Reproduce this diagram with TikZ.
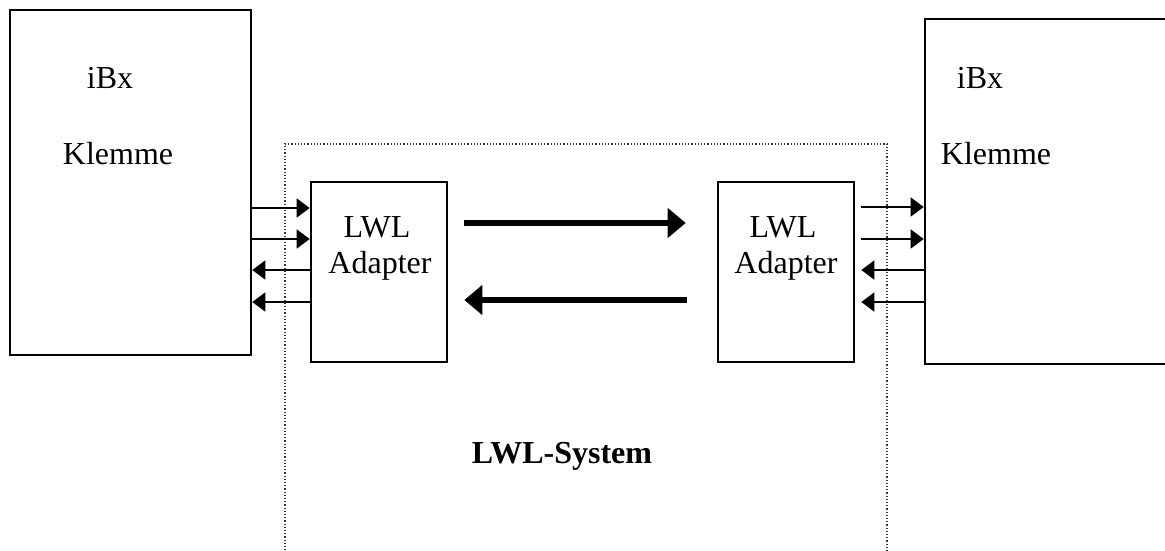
\documentclass[tikz,border=0pt]{standalone}
\usepackage{fontspec}
\setmainfont{Liberation Serif}
\usetikzlibrary{arrows.meta,calc}
\tikzset{
  klemme/.style={draw,line width=2.6pt,minimum width=241pt,minimum height=345pt,inner sep=0pt},
  adapter/.style={draw,line width=2.6pt,minimum width=136pt,minimum height=180pt,inner sep=0pt},
  lbl/.style={font=\fontsize{32}{36}\selectfont,inner sep=0pt,anchor=base},
  sarrow/.style={line width=1.6pt,-{Triangle[length=13pt,width=19pt]}},
  tarrow/.style={line width=6pt,-{Triangle[length=18pt,width=29pt]}},
  sysbox/.style={line width=1.2pt,dotted,black!80},
}
\begin{document}
\begin{tikzpicture}[x=1pt,y=-1pt]
\useasboundingbox (0,0) rectangle (1165,550);
\clip (0,0) rectangle (1165,550);
% dotted LWL system frame (open at bottom)
\draw[sysbox] (285,560) -- (285,144) -- (887,144) -- (887,560);
% Klemme boxes
\node[klemme] (klL) at (130.5,182.5) {};
\node[klemme] (klR) at (1045.5,191.5) {};
\node[lbl] (ibxL) at (110,88) {iBx};
\node[lbl] (kleL) at (118,164) {Klemme};
\node[lbl] (ibxR) at (980,88) {iBx};
\node[lbl] (kleR) at (996,164) {Klemme};
% adapters
\node[adapter] (adL) at (379,272) {};
\node[adapter] (adR) at (786,272) {};
\node[lbl] (lwlL) at (377,237) {LWL};
\node[lbl] (apL) at (380,273) {Adapter};
\node[lbl] (lwlR) at (783,237) {LWL};
\node[lbl] (apR) at (786,273) {Adapter};
% system label
\node[lbl,font=\fontsize{32}{36}\selectfont\bfseries] (sys) at (562,463) {LWL-System};
% small arrows left
\draw[sarrow] (klL.east |- 0,208) -- (adL.west |- 0,208);
\draw[sarrow] (klL.east |- 0,239) -- (adL.west |- 0,239);
\draw[sarrow] (adL.west |- 0,270) -- (klL.east |- 0,270);
\draw[sarrow] (adL.west |- 0,302) -- (klL.east |- 0,302);
% small arrows right
\draw[sarrow] ($(adR.east |- 0,207)+(6,0)$) -- (klR.west |- 0,207);
\draw[sarrow] ($(adR.east |- 0,239)+(6,0)$) -- (klR.west |- 0,239);
\draw[sarrow] (klR.west |- 0,270) -- ($(adR.east |- 0,270)+(6,0)$);
\draw[sarrow] (klR.west |- 0,302) -- ($(adR.east |- 0,302)+(6,0)$);
% thick arrows
\draw[tarrow] ($(adL.east |- 0,223)+(16,0)$) -- ($(adR.west |- 0,223)+(-31,0)$);
\draw[tarrow] ($(adR.west |- 0,300)+(-30,0)$) -- ($(adL.east |- 0,300)+(16,0)$);
\end{tikzpicture}
\end{document}
